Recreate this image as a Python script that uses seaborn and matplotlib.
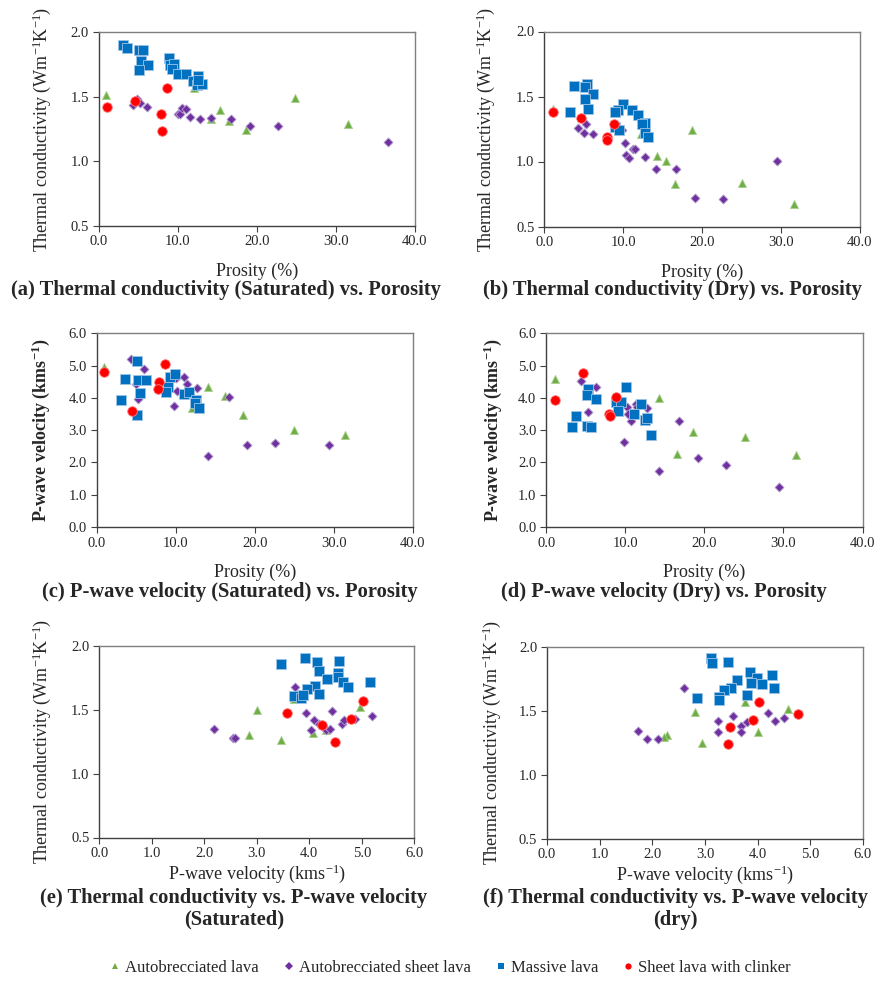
import matplotlib
matplotlib.use("Agg")
import matplotlib.pyplot as plt
from matplotlib.lines import Line2D
import seaborn as sns
import pandas as pd

# ---------------- data ----------------
SERIES = ["Autobrecciated lava", "Autobrecciated sheet lava", "Massive lava", "Sheet lava with clinker"]

# (a) Thermal conductivity (saturated) vs porosity
A_AL_X = [0.9, 12.1, 15.4, 14.2, 16.5, 18.6, 24.9, 31.5]
A_AL_Y = [1.51, 1.57, 1.40, 1.33, 1.31, 1.245, 1.49, 1.29]
A_ASL_X = [4.3, 4.9, 5.2, 6.1, 10.1, 10.3, 10.6, 11.1, 11.5, 12.8, 14.2, 16.8, 19.2, 22.7, 36.6]
A_ASL_Y = [1.435, 1.48, 1.455, 1.42, 1.37, 1.37, 1.415, 1.405, 1.34, 1.33, 1.335, 1.33, 1.27, 1.27, 1.15]
A_ML_X = [3.1, 3.6, 5.1, 5.6, 5.3, 6.2, 5.1, 8.9, 9.0, 9.5, 9.3, 10.0, 11.1, 11.9, 12.6, 12.4, 13.1, 12.6]
A_ML_Y = [1.905, 1.88, 1.86, 1.865, 1.775, 1.75, 1.71, 1.80, 1.745, 1.755, 1.715, 1.675, 1.68, 1.62, 1.66, 1.595, 1.60, 1.63]
A_SLC_X = [1.0, 4.6, 8.7, 7.9, 8.0]
A_SLC_Y = [1.42, 1.465, 1.57, 1.37, 1.235]

# (b) Thermal conductivity (dry) vs porosity
B_AL_X = [1.05, 12.2, 18.7, 14.3, 15.4, 16.5, 25.0, 31.6]
B_AL_Y = [1.405, 1.21, 1.245, 1.04, 1.005, 0.826, 0.834, 0.675]
B_ASL_X = [4.3, 5.3, 5.0, 6.2, 9.8, 10.2, 11.2, 11.5, 10.4, 10.7, 12.8, 14.2, 16.7, 19.1, 22.6, 29.5]
B_ASL_Y = [1.26, 1.29, 1.22, 1.21, 1.245, 1.14, 1.10, 1.10, 1.05, 1.03, 1.034, 0.946, 0.946, 0.723, 0.715, 1.005]
B_ML_X = [3.7, 5.4, 5.2, 6.2, 5.2, 5.6, 3.2, 10.0, 9.3, 9.0, 11.1, 11.9, 12.7, 12.4, 12.7, 13.1, 9.0, 9.5]
B_ML_Y = [1.577, 1.60, 1.57, 1.52, 1.48, 1.405, 1.377, 1.44, 1.40, 1.38, 1.40, 1.354, 1.295, 1.29, 1.22, 1.19, 1.265, 1.245]
B_SLC_X = [1.05, 4.6, 8.8, 7.9, 8.0]
B_SLC_Y = [1.38, 1.336, 1.29, 1.19, 1.167]

# (c) P-wave velocity (saturated) vs porosity
C_AL_X = [0.95, 14.1, 16.3, 12.1, 18.5, 24.9, 31.4]
C_AL_Y = [4.97, 4.33, 4.07, 3.68, 3.47, 2.99, 2.86]
C_ASL_X = [4.3, 6.05, 4.96, 5.2, 10.0, 11.1, 11.4, 12.7, 10.2, 9.8, 16.7, 14.1, 19.0, 22.6, 29.4]
C_ASL_Y = [5.21, 4.89, 4.43, 3.96, 4.63, 4.66, 4.43, 4.32, 4.20, 3.75, 4.04, 2.21, 2.54, 2.59, 2.53]
C_ML_X = [5.1, 3.6, 5.3, 6.2, 5.5, 3.1, 5.1, 9.3, 9.9, 9.0, 8.8, 11.0, 11.7, 12.6, 12.4, 13.0]
C_ML_Y = [5.15, 4.58, 4.56, 4.56, 4.15, 3.92, 3.47, 4.66, 4.74, 4.33, 4.18, 4.12, 4.18, 3.92, 3.84, 3.70]
C_SLC_X = [0.95, 8.7, 7.95, 7.8, 4.5]
C_SLC_Y = [4.81, 5.04, 4.50, 4.27, 3.58]

# (d) P-wave velocity (dry) vs porosity
D_AL_X = [1.1, 14.3, 18.6, 16.5, 25.1, 31.6]
D_AL_Y = [4.59, 4.01, 2.94, 2.27, 2.80, 2.22]
D_ASL_X = [4.4, 6.3, 5.3, 5.1, 10.2, 10.3, 11.3, 11.5, 12.8, 10.7, 9.9, 16.8, 14.3, 19.2, 22.8, 29.5]
D_ASL_Y = [4.53, 4.35, 3.55, 4.2, 3.71, 3.51, 3.82, 3.71, 3.70, 3.27, 2.62, 3.28, 1.74, 2.13, 1.93, 1.23]
D_ML_X = [5.3, 5.2, 6.3, 3.8, 3.2, 5.2, 5.7, 10.1, 8.8, 9.4, 9.1, 11.1, 12.0, 12.5, 12.8, 13.2]
D_ML_Y = [4.27, 4.09, 3.97, 3.44, 3.11, 3.13, 3.11, 4.33, 3.86, 3.88, 3.60, 3.51, 3.81, 3.30, 3.37, 2.85]
D_SLC_X = [1.1, 4.7, 8.8, 7.95, 8.1]
D_SLC_Y = [3.92, 4.76, 4.04, 3.51, 3.44]

# (e) Thermal conductivity vs P-wave velocity (saturated)
E_AL_X = [3.0, 2.85, 3.47, 3.71, 4.08, 4.31, 4.97]
E_AL_Y = [1.50, 1.30, 1.26, 1.58, 1.32, 1.34, 1.52]
E_ASL_X = [2.19, 2.54, 2.59, 3.72, 3.94, 4.09, 4.19, 4.03, 4.31, 4.40, 4.43, 4.62, 4.66, 4.87, 5.19]
E_ASL_Y = [1.35, 1.28, 1.28, 1.68, 1.47, 1.42, 1.385, 1.34, 1.34, 1.35, 1.49, 1.39, 1.42, 1.43, 1.45]
E_ML_X = [3.46, 3.91, 4.14, 4.57, 4.19, 4.55, 4.55, 4.34, 4.65, 4.73, 5.15, 4.11, 3.95, 4.19, 3.70, 3.84, 3.89]
E_ML_Y = [1.858, 1.907, 1.871, 1.884, 1.804, 1.786, 1.755, 1.742, 1.716, 1.68, 1.713, 1.688, 1.664, 1.623, 1.61, 1.592, 1.612]
E_SLC_X = [3.57, 4.25, 4.49, 4.80, 5.03]
E_SLC_Y = [1.47, 1.38, 1.25, 1.43, 1.57]

# (f) Thermal conductivity vs P-wave velocity (dry)
F_AL_X = [2.81, 2.27, 2.22, 2.94, 3.76, 4.01, 4.58]
F_AL_Y = [1.49, 1.31, 1.29, 1.245, 1.57, 1.33, 1.515]
F_ASL_X = [2.60, 1.72, 1.90, 2.10, 3.25, 3.25, 3.54, 3.69, 3.69, 3.79, 4.20, 4.33, 4.50]
F_ASL_Y = [1.68, 1.34, 1.275, 1.275, 1.42, 1.335, 1.46, 1.38, 1.33, 1.41, 1.48, 1.42, 1.44]
F_ML_X = [3.12, 3.13, 3.43, 3.85, 3.98, 3.87, 4.08, 4.28, 4.31, 3.60, 3.50, 3.36, 3.27, 3.27, 2.85, 3.79]
F_ML_Y = [1.91, 1.87, 1.88, 1.80, 1.755, 1.715, 1.71, 1.78, 1.68, 1.74, 1.68, 1.66, 1.61, 1.585, 1.60, 1.62]
F_SLC_X = [3.48, 3.43, 3.91, 4.03, 4.77]
F_SLC_Y = [1.37, 1.24, 1.425, 1.57, 1.47]

POR_TICKS = [0, 10, 20, 30, 40]
TC_TICKS = [0.5, 1.0, 1.5, 2.0]
VP_TICKS = [0, 1, 2, 3, 4, 5, 6]

CAPTIONS = [
    "(a) Thermal conductivity (Saturated) vs. Porosity",
    "(b) Thermal conductivity (Dry) vs. Porosity",
    "(c) P-wave velocity (Saturated) vs. Porosity",
    "(d) P-wave velocity (Dry) vs. Porosity",
    "(e) Thermal conductivity vs. P-wave velocity\n(Saturated)",
    "(f) Thermal conductivity vs. P-wave velocity\n(dry)",
]

# ---------------- style ----------------
sns.set_theme(style="white")
plt.rcParams["font.family"] = ["Liberation Serif", "DejaVu Serif"]
plt.rcParams["mathtext.fontset"] = "custom"
plt.rcParams["mathtext.rm"] = "Liberation Serif"
plt.rcParams["mathtext.it"] = "Liberation Serif:italic"
plt.rcParams["mathtext.bf"] = "Liberation Serif:bold"

COLORS = {SERIES[0]: "#70AD47", SERIES[1]: "#7030A0", SERIES[2]: "#0070C0", SERIES[3]: "#FF0000"}
MARKERS = {SERIES[0]: "^", SERIES[1]: "D", SERIES[2]: "s", SERIES[3]: "o"}
SIZES = {SERIES[0]: 34, SERIES[1]: 21, SERIES[2]: 48, SERIES[3]: 48}
EDGES = {SERIES[0]: "#a9d18e", SERIES[1]: "#b4a0d0", SERIES[2]: "#9dc3e6", SERIES[3]: "#ff8080"}

fig = plt.figure(figsize=(8.9, 9.81), dpi=100)
W, H = 890.0, 981.0


def add_ax(l, r, t, b):
    return fig.add_axes([l / W, 1 - b / H, (r - l) / W, (b - t) / H])


panels = [
    (add_ax(98.7, 414.7, 32.3, 225.7), [(A_AL_X, A_AL_Y), (A_ASL_X, A_ASL_Y), (A_ML_X, A_ML_Y), (A_SLC_X, A_SLC_Y)], "por", "tc", -0.145, -0.19),
    (add_ax(544.3, 860.0, 31.5, 226.5), [(B_AL_X, B_AL_Y), (B_ASL_X, B_ASL_Y), (B_ML_X, B_ML_Y), (B_SLC_X, B_SLC_Y)], "por", "tc", -0.15, -0.19),
    (add_ax(96.5, 413.0, 333.3, 527.0), [(C_AL_X, C_AL_Y), (C_ASL_X, C_ASL_Y), (C_ML_X, C_ML_Y), (C_SLC_X, C_SLC_Y)], "por", "vp", -0.14, -0.19),
    (add_ax(546.2, 862.5, 333.3, 527.0), [(D_AL_X, D_AL_Y), (D_ASL_X, D_ASL_Y), (D_ML_X, D_ML_Y), (D_SLC_X, D_SLC_Y)], "por", "vp", -0.133, -0.19),
    (add_ax(99.2, 414.3, 645.7, 837.5), [(E_AL_X, E_AL_Y), (E_ASL_X, E_ASL_Y), (E_ML_X, E_ML_Y), (E_SLC_X, E_SLC_Y)], "vp", "tc", -0.147, -0.13),
    (add_ax(547.0, 863.0, 646.7, 838.5), [(F_AL_X, F_AL_Y), (F_ASL_X, F_ASL_Y), (F_ML_X, F_ML_Y), (F_SLC_X, F_SLC_Y)], "vp", "tc", -0.139, -0.13),
]

TC_LABEL = r"Thermal conductivity (Wm$^{-1}$K$^{-1}$)"
VP_LABEL_BOLD = r"P-wave velocity (kms$^{\mathbf{-1}}$)"
VP_LABEL = r"P-wave velocity (kms$^{-1}$)"

for ax, data, xkind, ykind, ylab_x, xlab_y in panels:
    for name, (xs, ys) in zip(SERIES, data):
        df = pd.DataFrame({"x": xs, "y": ys})
        sns.scatterplot(data=df, x="x", y="y", ax=ax, marker=MARKERS[name], color=COLORS[name],
                        s=SIZES[name], edgecolor=EDGES[name], linewidth=0.6, legend=False, zorder=3)
    if xkind == "por":
        ax.set_xlim(0, 40)
        ax.set_xticks(POR_TICKS)
        ax.set_xticklabels([f"{v:.1f}" for v in POR_TICKS])
        ax.set_xlabel("Prosity (%)", fontsize=13)
    else:
        ax.set_xlim(0, 6)
        ax.set_xticks(VP_TICKS)
        ax.set_xticklabels([f"{v:.1f}" for v in VP_TICKS])
        ax.set_xlabel(VP_LABEL, fontsize=13)
    if ykind == "tc":
        ax.set_ylim(0.5, 2.0)
        ax.set_yticks(TC_TICKS)
        ax.set_yticklabels([f"{v:.1f}" for v in TC_TICKS])
        ax.set_ylabel(TC_LABEL, fontsize=13)
    else:
        ax.set_ylim(0, 6)
        ax.set_yticks(VP_TICKS)
        ax.set_yticklabels([f"{v:.1f}" for v in VP_TICKS])
        ax.set_ylabel(VP_LABEL_BOLD, fontsize=13, fontweight="bold")
    ax.yaxis.set_label_coords(ylab_x, 0.5)
    ax.xaxis.set_label_coords(0.5, xlab_y)
    ax.tick_params(axis="both", which="major", direction="out", length=4, width=0.8,
                   color="#404040", labelsize=10.5, pad=3, bottom=True, left=True)
    for side in ["left", "bottom"]:
        ax.spines[side].set_color("#404040")
        ax.spines[side].set_linewidth(1.0)
    for side in ["top", "right"]:
        ax.spines[side].set_color("#7f7f7f")
        ax.spines[side].set_linewidth(1.0)
    ax.set_facecolor("white")

# captions
cap_pos = [(226, 290), (672, 290), (230, 592), (664, 592), (234, 909), (675, 909)]
for (cx, cy), txt in zip(cap_pos, CAPTIONS):
    fig.text(cx / W, 1 - cy / H, txt, ha="center", va="center", fontsize=14.8,
             fontweight="bold", linespacing=1.1)

# legend
handles = [Line2D([], [], linestyle="none", marker=MARKERS[n], color=COLORS[n],
                  markersize=4.5, markeredgewidth=0) for n in SERIES]
fig.legend(handles, SERIES, loc="center", bbox_to_anchor=(0.506, 1 - 968 / H), ncol=4,
           frameon=False, fontsize=12, handlelength=0.6, handletextpad=0.3,
           columnspacing=1.5)

fig.savefig("out.png", dpi=100, facecolor="white")
